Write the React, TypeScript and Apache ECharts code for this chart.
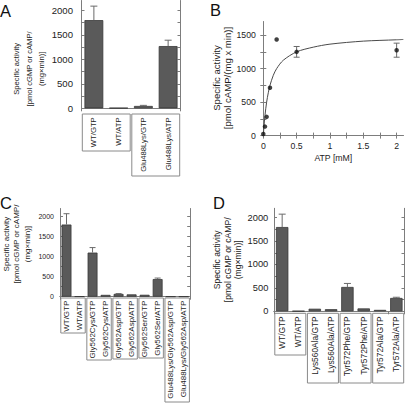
import React, { useEffect, useRef } from "react";
import * as echarts from "echarts";

// ---------- Data ----------
const catsA = ["WT/GTP", "WT/ATP", "Glu488Lys/GTP", "Glu488Lys/ATP"];
const valsA = [1800, 8, 48, 1270];
const errA = [285, 0, 12, 120];
const groupsA = [[0, 1], [2, 3]];

const atpConc = [0, 0.025, 0.05, 0.1, 0.2, 0.5, 2];
const activityB = [25, 135, 280, 715, 1435, 1250, 1275];
const errB = [0, 0, 0, 0, 0, 80, 105];
const fitConc = [0, 0.01, 0.025, 0.05, 0.075, 0.1, 0.15, 0.2, 0.3, 0.5, 0.75, 1, 1.5, 2, 2.1];
const fitActivity = [0, 135, 300, 500, 640, 750, 900, 1000, 1125, 1250, 1320, 1365, 1410, 1430, 1435];

const catsC = [
  "WT/GTP", "WT/ATP", "Gly562Cys/GTP", "Gly562Cys/ATP", "Gly562Asp/GTP", "Gly562Asp/ATP",
  "Gly562Ser/GTP", "Gly562Ser/ATP", "Glu488Lys/Gly562Asp/GTP", "Glu488Lys/Gly562Asp/ATP",
];
const valsC = [1800, 8, 1100, 45, 70, 58, 48, 440, 4, 4];
const errC = [270, 0, 125, 0, 8, 0, 0, 25, 0, 0];
const groupsC = [[0, 1], [2, 3], [4, 5], [6, 7], [8, 9]];

const catsD = [
  "WT/GTP", "WT/ATP", "Lys560Ala/GTP", "Lys560Ala/ATP",
  "Tyr572Phe/GTP", "Tyr572Phe/ATP", "Tyr572Ala/GTP", "Tyr572Ala/ATP",
];
const valsD = [1800, 6, 55, 45, 520, 62, 30, 285];
const errD = [275, 0, 0, 0, 75, 0, 0, 15];
const groupsD = [[0, 1], [2, 3], [4, 5], [6, 7]];

const barTicks = [0, 250, 500, 750, 1000, 1250, 1500, 1750, 2000];
const barLabels = [0, 500, 1000, 1500, 2000];
const bXTicks = [0, 0.25, 0.5, 0.75, 1, 1.25, 1.5, 1.75, 2];
const bXLabels = [0, 0.5, 1, 1.5, 2];
const bYTicks = [0, 250, 500, 750, 1000, 1250, 1500];
const bYLabels = [0, 500, 1000, 1500];

const yName3 = "Specific activity\n[pmol cGMP or cAMP/\n(mg\u00d7min)]";
const yNameB = "Specific activity\n[pmol cAMP/(mg x min)]";
const xNameB = "ATP [mM]";

// ---------- Styles ----------
const FONT = "Liberation Sans, Arial, Helvetica, sans-serif";
const FRAME = "#7d7d7d";
const TEXT = "#1c1c1c";
const BAR = "#5a5a5a";
const BAR_BORDER = "#383838";
const ERR = "#6a6a6a";

const grids = [
  { left: 81.5, top: 0.5, width: 99, height: 107.8 },
  { left: 263.3, top: 21.7, width: 140, height: 115.6 },
  { left: 59.2, top: 208.5, width: 131, height: 88.2 },
  { left: 274, top: 208.3, width: 130.5, height: 103 },
];

const line = { show: true, lineStyle: { color: FRAME, width: 1 } };
const plain = (v: number) => String(v);

function catAxes(g: number, cats: string[], fontSize: number, margin: number) {
  return [
    {
      gridIndex: g, type: "category", data: cats, position: "bottom",
      axisLine: line, axisTick: { show: false },
      axisLabel: { rotate: 90, fontSize, margin, color: TEXT, fontFamily: FONT, interval: 0 },
    },
    {
      gridIndex: g, type: "category", data: cats, position: "top",
      axisLine: line,
      axisTick: { show: true, inside: true, length: 3, lineStyle: { color: FRAME } },
      axisLabel: { show: false },
    },
  ];
}

function valAxes(
  g: number, fontSize: number, margin: number, min: number, max: number,
  ticks: number[], labels: number[],
  name: string, nameSize: number, nameLH: number, nameGap: number, namePad: number[],
) {
  return [
    {
      gridIndex: g, type: "value", min, max, position: "left",
      axisLine: line, splitLine: { show: false },
      axisTick: { show: true, inside: true, length: 3, customValues: ticks, lineStyle: { color: FRAME } },
      axisLabel: { customValues: labels, formatter: plain, fontSize, margin, color: TEXT, fontFamily: FONT },
      name, nameLocation: "middle", nameGap,
      nameTextStyle: { fontSize: nameSize, lineHeight: nameLH, fontFamily: FONT, color: TEXT, padding: namePad },
    },
    {
      gridIndex: g, type: "value", min, max, position: "right",
      axisLine: line, splitLine: { show: false },
      axisTick: { show: true, inside: true, length: 3, customValues: ticks, lineStyle: { color: FRAME } },
      axisLabel: { show: false },
    },
  ];
}

function errRender(capHalf: number, both: boolean) {
  return (params: any, api: any) => {
    const x = api.value(0);
    const m = api.value(1);
    const e = api.value(2);
    const top = api.coord([x, m + e]);
    const bot = api.coord([x, both ? m - e : m]);
    const st = { stroke: ERR, lineWidth: 1 };
    const children: any[] = [
      { type: "line", shape: { x1: top[0], y1: top[1], x2: bot[0], y2: bot[1] }, style: st },
      { type: "line", shape: { x1: top[0] - capHalf, y1: top[1], x2: top[0] + capHalf, y2: top[1] }, style: st },
    ];
    if (both) {
      children.push({ type: "line", shape: { x1: bot[0] - capHalf, y1: bot[1], x2: bot[0] + capHalf, y2: bot[1] }, style: st });
    }
    return { type: "group", children };
  };
}

function barSeries(xi: number, yi: number, vals: number[]) {
  return {
    type: "bar", xAxisIndex: xi, yAxisIndex: yi, data: vals,
    barCategoryGap: "24%",
    itemStyle: { color: BAR, borderColor: BAR_BORDER, borderWidth: 0.8 },
  };
}

function errSeries(xi: number, yi: number, vals: number[], errs: number[], cap: number, both: boolean, xs?: number[]) {
  const data: number[][] = [];
  vals.forEach((v, i) => {
    if (errs[i] > 0) data.push([xs ? xs[i] : i, v, errs[i]]);
  });
  return {
    type: "custom", xAxisIndex: xi, yAxisIndex: yi, data, z: 5,
    renderItem: errRender(cap, both),
  };
}

function letter(x: number, y: number, text: string) {
  return {
    type: "text", x, y,
    style: { text, fontSize: 16.5, fontFamily: FONT, fill: "#111", align: "left", verticalAlign: "middle" },
  };
}

export default function App() {
  const ref = useRef<HTMLDivElement>(null);

  useEffect(() => {
    if (!ref.current) return;
    const chart = echarts.init(ref.current, undefined, { renderer: "svg" });

    const option: any = {
      animation: false,
      textStyle: { fontFamily: FONT },
      grid: grids,
      xAxis: [
        ...catAxes(0, catsA, 7.7, 9),
        {
          gridIndex: 1, type: "value", min: 0, max: 2.1, position: "bottom",
          axisLine: line, splitLine: { show: false },
          axisTick: { show: true, inside: true, length: 3, customValues: bXTicks, lineStyle: { color: FRAME } },
          axisLabel: { customValues: bXLabels, formatter: plain, fontSize: 8.7, margin: 4, color: TEXT, fontFamily: FONT },
          name: xNameB, nameLocation: "middle", nameGap: 16.5,
          nameTextStyle: { fontSize: 8.7, fontFamily: FONT, color: TEXT },
        },
        {
          gridIndex: 1, type: "value", min: 0, max: 2.1, position: "top",
          axisLine: line, splitLine: { show: false },
          axisTick: { show: true, inside: true, length: 3, customValues: bXTicks, lineStyle: { color: FRAME } },
          axisLabel: { show: false },
        },
        ...catAxes(2, catsC, 8, 4),
        ...catAxes(3, catsD, 8.4, 5),
      ],
      yAxis: [
        ...valAxes(0, 9.6, 8.5, 0, 2200, barTicks, barLabels, yName3, 7.6, 12.5, 33, [0, 29, 0, 0]),
        ...valAxes(1, 8.7, 7.5, -25, 1700, bYTicks, bYLabels, yNameB, 9.6, 10.4, 25.4, [0, 0, 0, 3]),
        ...valAxes(2, 7, 6, 0, 2200, barTicks, barLabels, yName3, 8, 10.5, 27.5, [0, 0, 0, 17]),
        ...valAxes(3, 9.3, 5.7, 0, 2200, barTicks, barLabels, yName3, 8.6, 10.6, 28.2, [0, 0, 0, 0]),
      ],
      series: [
        barSeries(0, 0, valsA),
        errSeries(0, 0, valsA, errA, 3.5, false),
        {
          type: "line", xAxisIndex: 2, yAxisIndex: 2, smooth: 0.3, showSymbol: false,
          data: fitConc.map((c, i) => [c, fitActivity[i]]),
          lineStyle: { color: "#4a4a4a", width: 1 }, z: 2,
        },
        errSeries(2, 2, activityB, errB, 3, true, atpConc),
        {
          type: "scatter", xAxisIndex: 2, yAxisIndex: 2, symbolSize: 4.5,
          data: atpConc.map((c, i) => [c, activityB[i]]),
          itemStyle: { color: "#111" }, z: 6,
        },
        barSeries(4, 4, valsC),
        errSeries(4, 4, valsC, errC, 3, false),
        barSeries(6, 6, valsD),
        errSeries(6, 6, valsD, errD, 3.5, false),
      ],
    };
    chart.setOption(option);

    const boxes: any[] = [];
    const addBoxes = (xi: number, cats: string[], groups: number[][], top: number, bottoms: number[]) => {
      const c0 = chart.convertToPixel({ xAxisIndex: xi }, cats[0]) as number;
      const c1 = chart.convertToPixel({ xAxisIndex: xi }, cats[1]) as number;
      const band = c1 - c0;
      groups.forEach((g, k) => {
        const xs = chart.convertToPixel({ xAxisIndex: xi }, cats[g[0]]) as number;
        const xe = chart.convertToPixel({ xAxisIndex: xi }, cats[g[g.length - 1]]) as number;
        const x0 = xs - band / 2 + 0.8;
        const x1 = xe + band / 2 - 0.8;
        boxes.push({
          type: "rect", z: -1,
          shape: { x: x0, y: top, width: x1 - x0, height: bottoms[k] - top },
          style: { fill: "none", stroke: "#8a8a8a", lineWidth: 1 },
        });
      });
    };
    addBoxes(0, catsA, groupsA, 114, [151, 176]);
    addBoxes(4, catsC, groupsC, 298, [333, 360, 359, 358, 402]);
    addBoxes(6, catsD, groupsD, 313.3, [355, 383, 383, 383]);

    chart.setOption({
      graphic: {
        elements: [
          letter(0, 10.5, "A"),
          letter(210, 9.5, "B"),
          letter(0, 203.3, "C"),
          letter(213, 203.3, "D"),
          ...boxes,
        ],
      },
    });

    return () => chart.dispose();
  }, []);

  return (
    <div
      ref={ref}
      style={{ position: "absolute", left: 0, top: 0, width: 405, height: 403, background: "#fff" }}
    />
  );
}
